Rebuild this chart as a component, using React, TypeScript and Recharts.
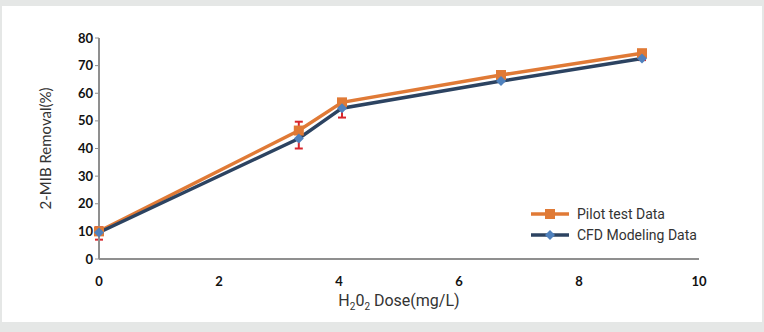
import React from 'react';
import { LineChart, Line, XAxis, YAxis, ErrorBar } from 'recharts';

const doses = [0, 3.33, 4.05, 6.7, 9.05];
const pilotValues = [10, 46.5, 56.7, 66.6, 74.5];
const cfdValues = [9.6, 43.6, 54.6, 64.4, 72.6];
const pilotErrLow = [3, 6.5, 5.5, 2.2, 2.5];
const pilotErrHigh = [1.5, 3.2, 1, 0.5, 0.5];
const xTicks = [0, 2, 4, 6, 8, 10];
const yTicks = [0, 10, 20, 30, 40, 50, 60, 70, 80];
const seriesNames = ['Pilot test Data', 'CFD Modeling Data'];

const data = doses.map((d, i) => ({
  dose: d,
  pilot: pilotValues[i],
  cfd: cfdValues[i],
  err: [pilotErrLow[i], pilotErrHigh[i]],
}));

const ORANGE = '#e07a36';
const NAVY = '#2c4361';
const BLUE = '#4f81bd';
const RED = '#d8262c';
const condensed = '"Liberation Sans Narrow", "Roboto", sans-serif';

const SquareDot = (props: any) => {
  const { cx, cy } = props;
  if (cx == null || cy == null) return null;
  return <rect x={cx - 5} y={cy - 5} width={10} height={10} fill={ORANGE} />;
};

const DiamondDot = (props: any) => {
  const { cx, cy } = props;
  if (cx == null || cy == null) return null;
  const r = 5;
  return <path d={`M${cx},${cy - r}L${cx + r},${cy}L${cx},${cy + r}L${cx - r},${cy}Z`} fill={BLUE} />;
};

const LegendBox = () => (
  <svg width={200} height={50} style={{ position: 'absolute', left: 527, top: 196 }}>
    <line x1={2} y1={12} x2={40} y2={12} stroke={ORANGE} strokeWidth={3.5} />
    <rect x={16} y={7} width={10} height={10} fill={ORANGE} />
    <text x={48} y={17} fontFamily={condensed} fontSize={14} fill="#333">{seriesNames[0]}</text>
    <line x1={2} y1={33} x2={40} y2={33} stroke={NAVY} strokeWidth={3.5} />
    <path d="M21,28L26,33L21,38L16,33Z" fill={BLUE} />
    <text x={48} y={38} fontFamily={condensed} fontSize={14} fill="#333">{seriesNames[1]}</text>
  </svg>
);

export default function App() {
  return (
    <div style={{ position: 'absolute', left: 0, top: 0, width: 764, height: 332, background: '#e5e7e6' }}>
      <div style={{ position: 'absolute', left: 2, top: 6, width: 760, height: 316, background: '#ffffff' }}>
        <LineChart width={760} height={316} data={data} margin={{ top: 32, right: 63, left: 37, bottom: 13 }}>
          <XAxis
            dataKey="dose"
            type="number"
            domain={[0, 10]}
            ticks={xTicks}
            tickLine={false}
            axisLine={{ stroke: '#8f8f8f', strokeWidth: 2 }}
            tick={{ fontFamily: 'Lato, sans-serif', fontWeight: 700, fontSize: 13, fill: '#111' }}
            tickMargin={12}
            height={50}
            label={(p: any) => {
              const vb = p.viewBox;
              const cx = vb.x + vb.width / 2;
              return (
                <text x={cx} y={vb.y + 47} textAnchor="middle" fontFamily={condensed} fontSize={16} fill="#333">
                  H<tspan fontSize={10} dy={4}>2</tspan>
                  <tspan dy={-4}>0</tspan>
                  <tspan fontSize={10} dy={4}>2</tspan>
                  <tspan dy={-4}> Dose(mg/L)</tspan>
                </text>
              );
            }}
          />
          <YAxis
            type="number"
            domain={[0, 80]}
            ticks={yTicks}
            width={60}
            interval={0}
            tickLine={{ stroke: '#8f8f8f' }}
            tickSize={4}
            axisLine={{ stroke: '#8f8f8f', strokeWidth: 2 }}
            tick={{ fontFamily: 'Lato, sans-serif', fontWeight: 700, fontSize: 13, fill: '#111' }}
            label={(p: any) => {
              const vb = p.viewBox;
              const cy = vb.y + vb.height / 2;
              const x = 49;
              return (
                <text x={x} y={cy} transform={`rotate(-90 ${x} ${cy})`} textAnchor="middle" fontFamily="Lato, sans-serif" fontSize={15} fill="#333">
                  2-MIB Removal(%)
                </text>
              );
            }}
          />
          <Line
            dataKey="pilot"
            stroke={ORANGE}
            strokeWidth={3.5}
            dot={SquareDot}
            activeDot={false}
            isAnimationActive={false}
          >
            <ErrorBar dataKey="err" direction="y" stroke={RED} strokeWidth={2} width={4} />
          </Line>
          <Line
            dataKey="cfd"
            stroke={NAVY}
            strokeWidth={3.5}
            dot={DiamondDot}
            activeDot={false}
            isAnimationActive={false}
          />
        </LineChart>
        <LegendBox />
      </div>
    </div>
  );
}
